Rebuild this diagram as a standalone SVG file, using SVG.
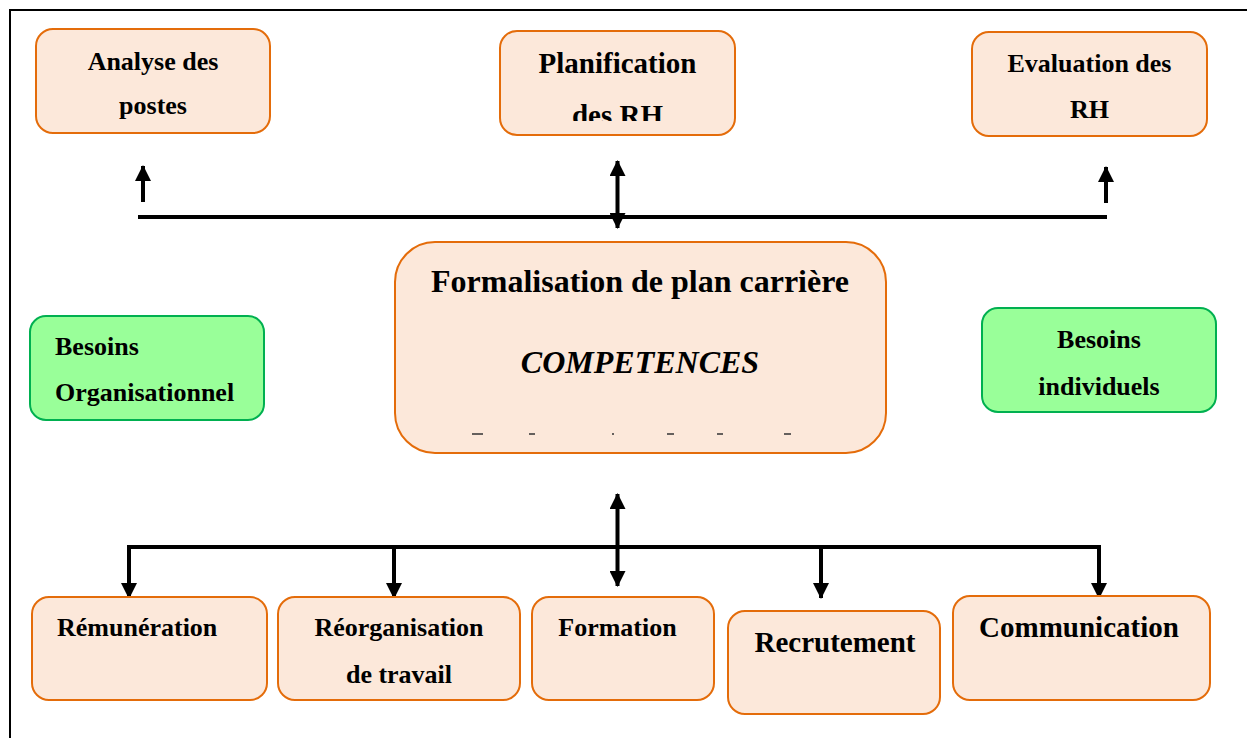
<svg xmlns="http://www.w3.org/2000/svg" width="1247" height="738" viewBox="0 0 1247 738">
<style>
.ob{fill:#FCE8DA;stroke:#E46C0A;stroke-width:2}
.gb{fill:#99FF99;stroke:#00B050;stroke-width:2}
.t{font-family:"Liberation Serif","Times New Roman",serif;font-weight:bold;fill:#000}
.m{text-anchor:middle}
.ln{stroke:#000;stroke-width:4;fill:none}
.dash{stroke:#333;stroke-width:1.5}
</style>
<defs>
<marker id="ah" viewBox="0 0 16 16" refX="15" refY="8" markerWidth="16" markerHeight="16" markerUnits="userSpaceOnUse" orient="auto-start-reverse">
<path d="M0,0 L16,8 L0,16 Z" fill="#000"/>
</marker>
<clipPath id="clipPlan"><rect x="495" y="25" width="250" height="96"/></clipPath>
</defs>
<rect width="1247" height="738" fill="#fff"/>
<g id="border">
<line x1="10" y1="10" x2="1247" y2="10" stroke="#000" stroke-width="2"/>
<line x1="10" y1="9" x2="10" y2="738" stroke="#000" stroke-width="2"/>
</g>
<g id="connectors">
<line class="ln" x1="138" y1="217" x2="1107" y2="217"/>
<line class="ln" x1="143" y1="202" x2="143" y2="166" marker-end="url(#ah)"/>
<line class="ln" x1="1106" y1="203" x2="1106" y2="167" marker-end="url(#ah)"/>
<line class="ln" x1="617.5" y1="161" x2="617.5" y2="228" marker-start="url(#ah)" marker-end="url(#ah)"/>
<line class="ln" x1="617.5" y1="494" x2="617.5" y2="586" marker-start="url(#ah)" marker-end="url(#ah)"/>
<polyline class="ln" points="129,598 129,547 1099,547 1099,598" marker-start="url(#ah)" marker-end="url(#ah)"/>
<line class="ln" x1="394" y1="547" x2="394" y2="598" marker-end="url(#ah)"/>
<line class="ln" x1="821" y1="547" x2="821" y2="598" marker-end="url(#ah)"/>
</g>
<g id="analyse">
<rect class="ob" x="36" y="29" width="234" height="104" rx="17"/>
<text class="t m" x="153" y="70" font-size="26">Analyse des</text>
<text class="t m" x="153" y="114" font-size="26">postes</text>
</g>
<g id="planification">
<rect class="ob" x="500" y="31" width="235" height="104" rx="17"/>
<text class="t m" x="617.5" y="73" font-size="29">Planification</text>
<text class="t m" x="617.5" y="125" font-size="29" clip-path="url(#clipPlan)">des RH</text>
</g>
<g id="evaluation">
<rect class="ob" x="972" y="32" width="235" height="104" rx="17"/>
<text class="t m" x="1089.5" y="72" font-size="26">Evaluation des</text>
<text class="t m" x="1089.5" y="118" font-size="26">RH</text>
</g>
<g id="formalisation">
<rect class="ob" x="395" y="242" width="491" height="211" rx="40"/>
<text class="t m" x="640" y="292" font-size="32">Formalisation de plan carrière</text>
<text class="t m" x="640" y="373" font-size="32" font-style="italic">COMPETENCES</text>
<line class="dash" x1="472" y1="434" x2="483" y2="434"/>
<line class="dash" x1="529" y1="434" x2="535" y2="434"/>
<line class="dash" x1="612" y1="434" x2="614" y2="434"/>
<line class="dash" x1="667" y1="434" x2="674" y2="434"/>
<line class="dash" x1="717" y1="434" x2="723" y2="434"/>
<line class="dash" x1="784" y1="434" x2="791" y2="434"/>
</g>
<g id="besoins-org">
<rect class="gb" x="30" y="316" width="234" height="104" rx="16"/>
<text class="t" x="55" y="355" font-size="26">Besoins</text>
<text class="t" x="55" y="401" font-size="26">Organisationnel</text>
</g>
<g id="besoins-ind">
<rect class="gb" x="982" y="308" width="234" height="104" rx="16"/>
<text class="t m" x="1099" y="348" font-size="26">Besoins</text>
<text class="t m" x="1099" y="395" font-size="26">individuels</text>
</g>
<g id="remuneration">
<rect class="ob" x="32" y="597" width="235" height="103" rx="17"/>
<text class="t" x="57" y="636" font-size="26">Rémunération</text>
</g>
<g id="reorganisation">
<rect class="ob" x="278" y="597" width="242" height="103" rx="17"/>
<text class="t m" x="399" y="636" font-size="26">Réorganisation</text>
<text class="t m" x="399" y="683" font-size="26">de travail</text>
</g>
<g id="formation">
<rect class="ob" x="532" y="597" width="182" height="103" rx="17"/>
<text class="t m" x="617.5" y="636" font-size="26">Formation</text>
</g>
<g id="recrutement">
<rect class="ob" x="728" y="611" width="212" height="103" rx="17"/>
<text class="t m" x="835" y="652" font-size="29">Recrutement</text>
</g>
<g id="communication">
<rect class="ob" x="953" y="596" width="257" height="104" rx="17"/>
<text class="t m" x="1079" y="637" font-size="29">Communication</text>
</g>
</svg>
